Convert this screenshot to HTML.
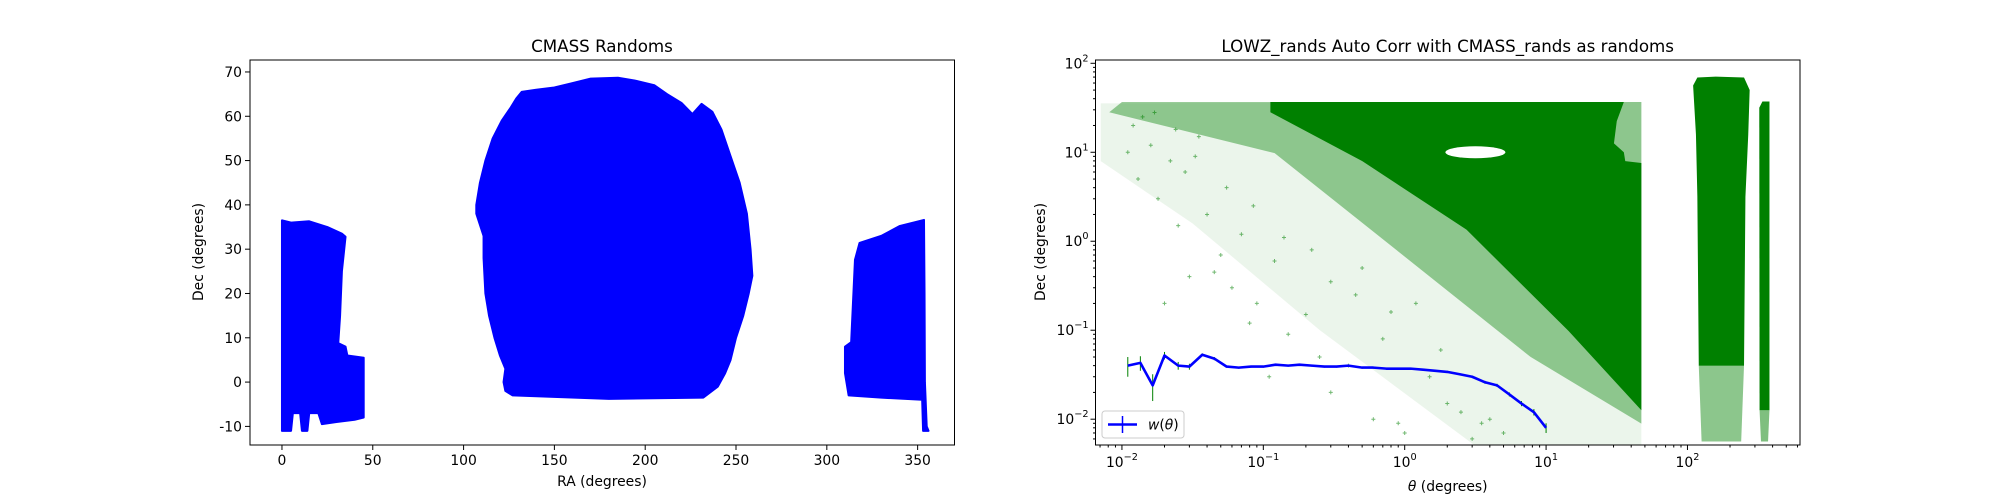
<!DOCTYPE html>
<html><head><meta charset="utf-8"><style>
html,body{margin:0;padding:0;background:#fff;}
svg{display:block;font-family:"DejaVu Sans","Liberation Sans",sans-serif;}
</style></head><body>
<svg id="fig" width="2000" height="500" viewBox="0 0 2000 500"></svg>
<script>
// ---------- Left chart data (RA, Dec) ----------
const raTicks=[0,50,100,150,200,250,300,350];
const decTicks=[-10,0,10,20,30,40,50,60,70];
const leftPieceRA=[0,5,15,25,33,35,33,32,31,35,36,45,45,40,30,22,20,15,14,11,10,6,5,0];
const leftPieceDec=[36.5,36,36.3,35,33.5,32.8,25,15,8.8,8,6,5.5,-8,-8.5,-9,-9.5,-7,-7,-11,-11,-7,-7,-11,-11];
const bigRA=[107,109,112,116,121,126,129,132,140,150,160,170,185,195,205,212,220,226,231,237,242,247,252,256,258,259,257,254,250,247,244,240,232,180,127,123,122,123,120,117,114,112,111,111,107];
const bigDec=[40,45,50,55,59,62,64,65.5,66,66.5,67.5,68.5,68.7,68,67,65,63,60.5,62.8,61,57,51,45,38,30,24,20,15,10,5,2,-1,-3.5,-3.8,-3,-2,0,3,6,10,15,20,28,33,38];
const rightPieceRA=[310,313.4,315.5,318,330,340,353.5,353.8,354,355,356,353,352.5,330,312,310];
const rightPieceDec=[8,9,27.6,31.4,33,35.2,36.6,20,0,-10,-11,-11,-4,-3.5,-3,2];

// ---------- Right chart data ----------
const thetaTickExp=[-2,-1,0,1,2];
const decLogTickExp=[-2,-1,0,1,2];
const wTheta=[0.011,0.0135,0.0165,0.02,0.025,0.03,0.037,0.045,0.055,0.067,0.082,0.1,0.122,0.15,0.18,0.22,0.27,0.33,0.4,0.5,0.6,0.74,0.9,1.1,1.35,1.65,2,2.45,3,3.7,4.5,5.5,6.7,8.2,10];
const wValues=[0.040,0.043,0.024,0.052,0.040,0.039,0.053,0.048,0.039,0.038,0.039,0.039,0.041,0.040,0.041,0.040,0.039,0.039,0.040,0.038,0.038,0.037,0.037,0.037,0.036,0.035,0.034,0.032,0.030,0.026,0.024,0.019,0.015,0.012,0.008];
const wErr=[0.01,0.008,0.008,0.005,0.004,0.003,0.002,0.002,0.001,0.001,0.001,0.001,0.001,0.001,0.001,0.001,0.001,0.001,0.001,0.001,0.001,0.001,0.001,0.001,0.001,0.001,0.001,0.001,0.001,0.001,0.001,0.001,0.001,0.001,0.001];
// scatter density regions in (log10 theta, log10 dec)
const solidLogT=[-0.95,1.55,1.50,1.48,1.55,1.56,1.674,1.674,1.16,0.437,-0.3,-0.95];
const solidLogD=[1.565,1.565,1.35,1.1,1.0,0.9,0.88,-1.9,-1.01,0.13,0.9,1.45];
const midLogT=[-2.0,1.674,1.674,0.89,-0.01,-0.92,-2.09];
const midLogD=[1.565,1.565,-2.05,-1.30,-0.16,0.99,1.45];
const lightLogT=[-2.15,1.674,1.674,0.5,-0.6,-1.5,-2.15];
const lightLogD=[1.55,1.565,-2.3,-2.3,-1.0,0.2,0.9];
const strip1LogT=[2.04,2.07,2.2,2.4,2.44,2.43,2.41,2.40,2.08,2.07,2.06];
const strip1LogD=[1.75,1.84,1.85,1.84,1.7,1.2,0.5,-1.4,-1.4,0.5,1.2];
const strip1LowLogT=[2.08,2.40,2.38,2.1];
const strip1LowLogD=[-1.4,-1.4,-2.25,-2.25];
const strip2LogT=[2.508,2.53,2.58,2.58,2.51];
const strip2LogD=[1.5,1.57,1.57,-1.9,-1.9];
const strip2LowLogT=[2.51,2.58,2.57,2.52];
const strip2LowLogD=[-1.9,-1.9,-2.25,-2.25];
const sparseT=[0.012,0.013,0.016,0.018,0.022,0.025,0.03,0.035,0.04,0.05,0.06,0.07,0.09,0.12,0.15,0.2,0.25,0.3,0.4,0.5,0.7,0.9,1.2,1.5,2,2.5,3,4,5,0.014,0.02,0.028,0.045,0.08,0.11,0.3,0.6,1.0,1.8,3.5,0.011,0.017,0.024,0.033,0.055,0.085,0.14,0.22,0.45,0.8];
const sparseD=[20,5,12,3,8,1.5,0.4,15,2,0.7,0.3,1.2,0.2,0.6,0.09,0.15,0.05,0.35,0.04,0.5,0.08,0.009,0.2,0.03,0.015,0.012,0.006,0.01,0.007,25,0.2,6,0.45,0.12,0.03,0.02,0.01,0.007,0.06,0.009,10,28,18,9,4,2.5,1.1,0.8,0.25,0.16];

const svg=document.getElementById('fig');
const NS='http://www.w3.org/2000/svg';
function mk(tag,attrs,parent){const e=document.createElementNS(NS,tag);for(const k in attrs)e.setAttribute(k,attrs[k]);(parent||svg).appendChild(e);return e;}
function txt(s,attrs,parent){const e=mk('text',attrs,parent);e.textContent=s;return e;}

// ---------- Left axes ----------
const L={x0:250,x1:954.5,y0:60,y1:445,xmin:-17.6,xmax:370.3,ymin:-14.2,ymax:72.7};
const lx=v=>L.x0+(v-L.xmin)/(L.xmax-L.xmin)*(L.x1-L.x0);
const ly=v=>L.y1-(v-L.ymin)/(L.ymax-L.ymin)*(L.y1-L.y0);
const gL=mk('g',{});


function regionL(ra,dec,name){
  const p=mk('polygon',{points:ra.map((r,i)=>lx(r)+','+ly(dec[i])).join(' '),fill:'#0000ff',stroke:'#0000ff','stroke-width':2,'stroke-linejoin':'round'},gL);
  
  
}
regionL(leftPieceRA,leftPieceDec,'random-region-low-ra');
regionL(bigRA,bigDec,'random-region-north-cap');
regionL(rightPieceRA,rightPieceDec,'random-region-high-ra');
const fL=mk('rect',{x:L.x0,y:L.y0,width:L.x1-L.x0,height:L.y1-L.y0,fill:'none',stroke:'#000','stroke-width':1},gL);


raTicks.forEach(v=>{
  const x=lx(v);
  mk('line',{x1:x,y1:L.y1,x2:x,y2:L.y1+5,stroke:'#000'},gL);
  const t=txt(String(v),{x:x,y:L.y1+20,'font-size':13.9,'text-anchor':'middle'},gL);
  
  
});
decTicks.forEach(v=>{
  const y=ly(v);
  mk('line',{x1:L.x0-5,y1:y,x2:L.x0,y2:y,stroke:'#000'},gL);
  const t=txt(String(v),{x:L.x0-8,y:y+5,'font-size':13.9,'text-anchor':'end'},gL);
  
  
});
txt('CMASS Randoms',{x:602,y:52,'font-size':16.7,'text-anchor':'middle',},gL);
txt('RA (degrees)',{x:602,y:486,'font-size':13.9,'text-anchor':'middle',},gL);
txt('Dec (degrees)',{x:0,y:0,'font-size':13.9,'text-anchor':'middle',transform:'translate(203,252) rotate(-90)',},gL);

// ---------- Right axes (log-log) ----------
const R={x0:1095.5,x1:1800,y0:60,y1:445,lxmin:-2.187,lxmax:2.796,lymin:-2.29,lymax:2.037};
const rxL=l=>R.x0+(l-R.lxmin)/(R.lxmax-R.lxmin)*(R.x1-R.x0);
const ryL=l=>R.y1-(l-R.lymin)/(R.lymax-R.lymin)*(R.y1-R.y0);
const rx=v=>rxL(Math.log10(v));
const ry=v=>ryL(Math.log10(v));
const gR=mk('g',{});


const clip=mk('clipPath',{id:'rclip'},gR);
mk('rect',{x:R.x0,y:R.y0,width:R.x1-R.x0,height:R.y1-R.y0},clip);
const gData=mk('g',{'clip-path':'url(#rclip)'},gR);
function regionR(lt,ld,op,name){
  const p=mk('polygon',{points:lt.map((t,i)=>rxL(t)+','+ryL(ld[i])).join(' '),fill:'#008000','fill-opacity':op},gData);
  
  
}
regionR(lightLogT,lightLogD,0.08,'pair-scatter-sparse');
regionR(midLogT,midLogD,0.4,'pair-scatter-medium');
regionR(solidLogT,solidLogD,1,'pair-scatter-dense');
const hole=mk('ellipse',{cx:rxL(0.5),cy:ryL(1.0),rx:30,ry:6,fill:'#fff'},gData);


regionR(strip1LogT,strip1LogD,1,'pair-scatter-strip-1');
regionR(strip1LowLogT,strip1LowLogD,0.45,'pair-scatter-strip-1-tail');
regionR(strip2LogT,strip2LogD,1,'pair-scatter-strip-2');
regionR(strip2LowLogT,strip2LowLogD,0.5,'pair-scatter-strip-2-tail');
sparseT.forEach((t,i)=>{
  const x=rx(t),y=ry(sparseD[i]);
  const p=mk('path',{d:`M${x-2} ${y}h4M${x} ${y-2}v4`,stroke:'#008000','stroke-opacity':0.55,'stroke-width':1},gData);
  
  
});
// error bars
wTheta.forEach((t,i)=>{
  const x=rx(t);
  const e=mk('line',{x1:x,y1:ry(wValues[i]+wErr[i]),x2:x,y2:ry(Math.max(wValues[i]-wErr[i],1e-4)),stroke:'#008000','stroke-width':1},gData);
  
  
});
const wl=mk('polyline',{points:wTheta.map((t,i)=>rx(t)+','+ry(wValues[i])).join(' '),fill:'none',stroke:'#0000ff','stroke-width':2.6,'stroke-linejoin':'round'},gData);


const fR=mk('rect',{x:R.x0,y:R.y0,width:R.x1-R.x0,height:R.y1-R.y0,fill:'none',stroke:'#000','stroke-width':1},gR);


for(let d=-3;d<=3;d++){for(let m=1;m<10;m++){
  const l=d+Math.log10(m);
  if(l>=R.lxmin&&l<=R.lxmax){const x=rxL(l);mk('line',{x1:x,y1:R.y1,x2:x,y2:R.y1+(m===1?5:2.5),stroke:'#000'},gR);}
  if(l>=R.lymin&&l<=R.lymax){const y=ryL(l);mk('line',{x1:R.x0-(m===1?5:2.5),y1:y,x2:R.x0,y2:y,stroke:'#000'},gR);}
}}
function sup(parent,e,attrs){
  const t=mk('text',attrs,parent);
  const a=document.createElementNS(NS,'tspan');a.textContent='10';t.appendChild(a);
  const b=document.createElementNS(NS,'tspan');b.setAttribute('dy','-7');b.setAttribute('font-size','9.7');
  b.textContent=(e<0?'\u2212':'')+Math.abs(e);t.appendChild(b);return t;
}
thetaTickExp.forEach(e=>{
  const t=sup(gR,e,{x:rxL(e),y:R.y1+22,'font-size':13.9,'text-anchor':'middle'});
  
  
});
decLogTickExp.forEach(e=>{
  const t=sup(gR,e,{x:R.x0-7,y:ryL(e)+5,'font-size':13.9,'text-anchor':'end'});
  
  
});
txt('LOWZ_rands Auto Corr with CMASS_rands as randoms',{x:1447.7,y:52,'font-size':16.7,'text-anchor':'middle',},gR);
const xt=mk('text',{x:1447.7,y:491,'font-size':13.9,'text-anchor':'middle',},gR);
xt.innerHTML='<tspan font-style="italic">θ</tspan> (degrees)';
txt('Dec (degrees)',{x:0,y:0,'font-size':13.9,'text-anchor':'middle',transform:'translate(1045,252) rotate(-90)',},gR);
const lg=mk('g',{},gR);


mk('rect',{x:1102,y:411,width:82,height:27,rx:3,fill:'#fff','fill-opacity':0.8,stroke:'#ccc'},lg);
mk('line',{x1:1108,y1:424.5,x2:1137,y2:424.5,stroke:'#0000ff','stroke-width':2.6},lg);
mk('line',{x1:1122.5,y1:416,x2:1122.5,y2:433,stroke:'#0000ff','stroke-width':1.5},lg);
const lt=mk('text',{x:1148,y:429.5,'font-size':13.9},lg);
lt.innerHTML='<tspan font-style="italic">w</tspan>(<tspan font-style="italic">θ</tspan>)';


</script>
</body></html>
